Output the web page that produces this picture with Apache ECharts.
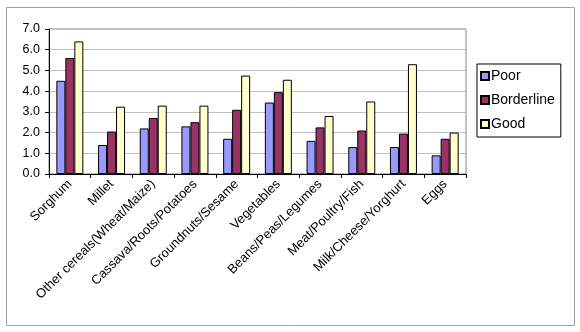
<!DOCTYPE html>
<html><head><meta charset="utf-8">
<script src="https://cdn.jsdelivr.net/npm/echarts@6/dist/echarts.min.js"></script>
<style>html,body{margin:0;padding:0;background:#fff}#c{width:580px;height:332px}</style>
</head><body><div id="c"></div>
<script>
const categories = ["Sorghum","Millet","Other cereals(Wheat/Maize)","Cassava/Roots/Potatoes","Groundnuts/Sesame","Vegetables","Beans/Peas/Legumes","Meat/Poultry/Fish","Milk/Cheese/Yorghurt","Eggs"];
const poor = [4.5, 1.4, 2.2, 2.3, 1.7, 3.45, 1.6, 1.3, 1.3, 0.9];
const borderline = [5.6, 2.05, 2.7, 2.5, 3.1, 3.95, 2.25, 2.1, 1.95, 1.7];
const good = [6.4, 3.25, 3.3, 3.3, 4.75, 4.55, 2.8, 3.5, 5.3, 2.0];
const yTicks = [0,1,2,3,4,5,6,7];

const chart = echarts.init(document.getElementById('c'), null, {renderer:'canvas'});
const font = 'Arial, "Liberation Sans", sans-serif';
const barStyle = c => ({color:c, borderColor:'#000', borderWidth:1});
chart.setOption({
  animation:false,
  textStyle:{fontFamily:font},
  graphic:[{type:'rect', shape:{x:6.5,y:7.5,width:568,height:318}, style:{fill:'none', stroke:'#a0a0a0', lineWidth:1}, z:-1}],
  grid:{left:49, top:29, right:114, bottom:158, show:true, borderColor:'#808080', borderWidth:1, backgroundColor:'#fff'},
  legend:{
    orient:'vertical', left:477, top:64,
    data:['Poor','Borderline','Good'],
    borderColor:'#000', borderWidth:1, padding:[5,6,6,3],
    itemWidth:8, itemHeight:8, itemGap:10,
    textStyle:{fontFamily:font, fontSize:14, color:'#000', padding:[0,0,0,-3]},
    icon:'rect'
  },
  xAxis:{
    type:'category', data:categories,
    axisLine:{lineStyle:{color:'#000'}},
    axisTick:{show:true, length:4, lineStyle:{color:'#000'}},
    axisLabel:{interval:0, rotate:45, fontSize:13, color:'#000', fontFamily:font, margin:8}
  },
  yAxis:{
    type:'value', min:0, max:7, interval:1,
    axisLine:{show:true, lineStyle:{color:'#000'}},
    axisTick:{show:true, length:4, lineStyle:{color:'#000'}},
    axisLabel:{formatter:v=>v.toFixed(1), fontSize:12.5, color:'#000', fontFamily:font, margin:9},
    splitLine:{lineStyle:{color:'#c0c0c0'}}
  },
  series:[
    {name:'Poor', type:'bar', data:poor, itemStyle:barStyle('#9999FF'), barGap:'0%', barWidth:9},
    {name:'Borderline', type:'bar', data:borderline, itemStyle:barStyle('#993366'), barGap:'0%', barWidth:9},
    {name:'Good', type:'bar', data:good, itemStyle:barStyle('#FFFFCC'), barGap:'0%', barWidth:9}
  ]
});
</script></body></html>
